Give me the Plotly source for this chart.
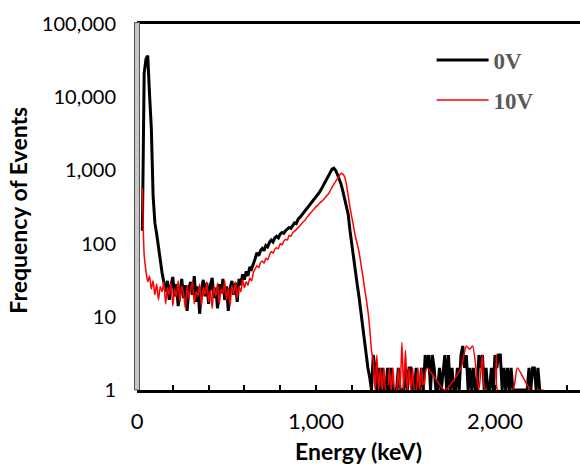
import plotly.graph_objects as go

# ---------------- data ----------------
# 0V spectrum: energy bins (keV) and counts
energy_0v = list(range(30, 2260, 10))
counts_0v = [
    150, 21000, 33000, 37000, 11000, 3800, 450, 190, 135, 95,            # 30-120
    60, 40, 30, 22, 31, 17, 27, 35, 19, 28,                              # 130-220
    14, 24, 33, 18, 27, 12, 25, 30, 20, 36,                              # 230-320
    16, 26, 11, 23, 32, 19, 29, 15, 27, 34,                              # 330-420
    18, 25, 13, 28, 21, 33, 17, 26, 12, 24,                              # 430-520
    31, 20, 29, 16, 33, 27, 38, 32, 42, 36,                              # 530-620
    48, 45, 55, 62, 75, 68, 80, 86, 80, 94,                              # 630-720
    90, 104, 112, 105, 120, 126, 120, 135, 142, 138,                     # 730-820
    150, 158, 166, 162, 180, 192, 188, 215, 228, 245,                    # 830-920
    262, 285, 302, 325, 345, 370, 398, 430, 462, 505,                    # 930-1020
    555, 615, 690, 770, 850, 950, 1040, 1075, 1000, 880,                 # 1030-1120
    760, 650, 520, 420, 330, 250, 150, 95, 60, 40,                       # 1130-1220
    28, 19, 12, 7, 4.5, 3, 2, 1.5,                                       # 1230-1300
    1, 3, 2, 1, 2, 1, 2, 1, 1, 2,                                        # 1310-1400
    1, 2, 1, 1, 1, 2, 1, 1, 1, 2,                                        # 1410-1500
    1, 2, 2, 1, 1, 2, 1, 1, 2, 1,                                        # 1510-1600
    3, 2, 3, 1, 3, 2, 1, 1, 2, 1,                                        # 1610-1700
    2, 3, 1, 3, 1, 2, 1, 1, 2, 1,                                        # 1710-1800
    3, 4, 2, 3, 1, 2, 1, 2, 1, 1,                                        # 1810-1900
    3, 2, 3, 1, 2, 1, 1, 2, 1, 3,                                        # 1910-2000
    2, 3, 3, 1, 2, 1, 2, 1, 2, 1,                                        # 2010-2100
    1, 1, 1, 1, 1, 1, 1, 1, 2, 1,                                        # 2110-2200
    2, 2, 1, 2, 1,                                                       # 2210-2250
]

# 10V spectrum: regular bins up to 1300 keV, sparse bins in the tail
energy_10v_main = list(range(30, 1310, 10))
counts_10v_main = [
    580, 70, 42, 30, 36, 24, 31, 20, 28, 17,                             # 30-120
    26, 22, 30, 15, 25, 20, 29, 14, 24, 19,                              # 130-220
    31, 16, 26, 21, 13, 27, 18, 24, 30, 15,                              # 230-320
    22, 19, 28, 14, 25, 20, 30, 16, 23, 13,                              # 330-420
    26, 19, 29, 15, 24, 21, 31, 17, 25, 14,                              # 430-520
    27, 20, 30, 18, 26, 22, 32, 25, 30, 27,                              # 530-620
    34, 31, 40, 45, 50, 47, 55, 58, 54, 63,                              # 630-720
    60, 70, 78, 74, 84, 88, 85, 100, 96, 108,                            # 730-820
    115, 112, 130, 126, 140, 148, 155, 165, 175, 188,                    # 830-920
    200, 210, 230, 245, 262, 280, 298, 320, 335, 355,                    # 930-1020
    375, 395, 420, 450, 480, 530, 590, 650, 710, 780,                    # 1030-1120
    840, 910, 890, 820, 650, 450, 310, 230, 170, 125,                    # 1130-1220
    100, 78, 55, 38, 26, 18, 12, 7,                                      # 1230-1300
]
energy_10v_tail = [1310, 1320, 1330, 1340, 1350, 1360, 1370, 1380, 1390, 1400,
                   1410, 1420, 1430, 1440, 1450, 1460, 1470, 1480, 1490, 1500,
                   1510, 1520, 1530, 1540, 1550, 1560, 1570, 1580, 1590, 1600,
                   1620, 1720, 1810, 1840, 1858, 1875, 1910, 1930, 1945, 2000,
                   2008, 2015, 2100, 2125, 2200, 2270]
counts_10v_tail = [3.5, 2.5, 1, 3, 1, 2, 1, 2, 1, 1,
                   2, 1, 2, 1, 1, 2, 1, 4.5, 1, 3.5,
                   1, 2, 1, 2, 1, 1, 2, 1, 2, 1,
                   2, 1, 2, 4, 3.6, 4, 1, 3, 1, 1,
                   3, 1, 1, 2, 1, 1]
energy_10v = energy_10v_main + energy_10v_tail
counts_10v = counts_10v_main + counts_10v_tail

x_tick_vals = [0, 1000, 2000]
x_tick_text = ["0", "1,000", "2,000"]
y_tick_vals = [1, 10, 100, 1000, 10000, 100000]
y_tick_text = ["1", "10", "100", "1,000", "10,000", "100,000"]

# ---------------- figure ----------------
fig = go.Figure()
fig.add_trace(go.Scatter(
    x=energy_0v, y=counts_0v, mode="lines", name="<b>0V</b>",
    line=dict(color="#000000", width=3), legendgroup="g0"))
fig.add_trace(go.Scatter(
    x=energy_10v, y=counts_10v, mode="lines", name="<b>10V</b>",
    line=dict(color="#ff0000", width=1.5, shape="spline", smoothing=0.6),
    legendgroup="g1"))

fig.update_layout(
    width=580, height=466,
    margin=dict(l=137, r=0, t=24, b=76),
    plot_bgcolor="white", paper_bgcolor="white",
    showlegend=True,
    xaxis=dict(
        range=[0, 2475], tickvals=x_tick_vals, ticktext=x_tick_text,
        ticks="inside", ticklen=5, tickwidth=1.5, tickcolor="black",
        minor=dict(dtick=200, tick0=0, ticks="inside", ticklen=5,
                   tickwidth=1.5, tickcolor="black"),
        showline=True, linecolor="black", linewidth=3, mirror=True,
        showgrid=False, zeroline=False,
        tickfont=dict(family="Lato", size=22, color="black"),
        ticklabelstandoff=10,
    ),
    yaxis=dict(
        type="log", range=[0, 5], tickvals=y_tick_vals, ticktext=y_tick_text,
        ticks="", showline=False, showgrid=False, zeroline=False,
        tickfont=dict(family="Lato", size=20, color="black"),
        ticklabelstandoff=20,
    ),
    legend=dict(
        x=0.665, y=0.96, xanchor="left", yanchor="top",
        font=dict(family="Liberation Serif", size=23, color="#595959"),
        itemwidth=52, traceorder="grouped", tracegroupgap=7,
        bgcolor="rgba(0,0,0,0)",
    ),
    shapes=[dict(type="rect", xref="paper", yref="paper",
                 x0=-0.0056, x1=0.0056, y0=0, y1=1.004,
                 fillcolor="#c8c8c8", line=dict(color="#505050", width=1),
                 layer="above")],
    annotations=[
        dict(text="<b>Frequency of Events</b>", xref="paper", yref="paper",
             x=-0.2686, y=0.49, xanchor="center", yanchor="middle",
             textangle=-90, showarrow=False,
             font=dict(family="Lato", size=23, color="black")),
        dict(text="<b>Energy (keV)</b>", xref="paper", yref="paper",
             x=0.499, y=-0.168, xanchor="center", yanchor="middle",
             showarrow=False,
             font=dict(family="Lato", size=23, color="black")),
    ],
)

fig.write_html("out.html")
